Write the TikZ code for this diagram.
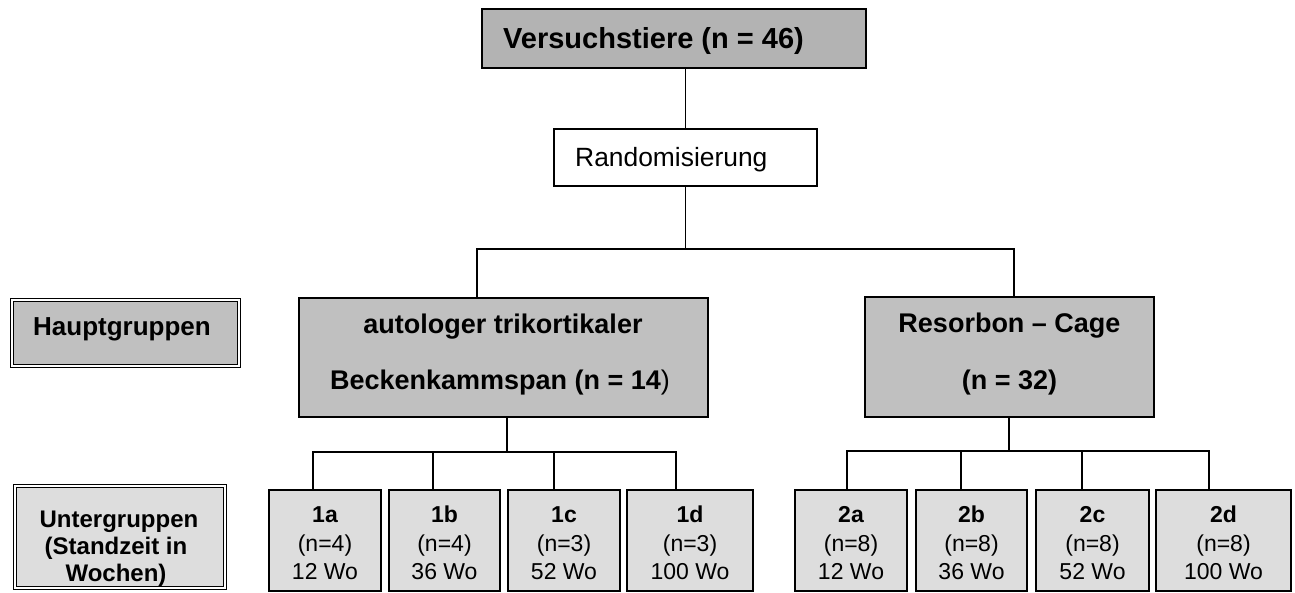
\documentclass[tikz,border=0pt]{standalone}
\usepackage{fontspec}
\setmainfont{Liberation Sans}
\definecolor{gtop}{HTML}{B3B3B3}
\definecolor{gmain}{HTML}{C0C0C0}
\definecolor{gsub}{HTML}{DDDDDD}
\begin{document}
\begin{tikzpicture}[x=1pt,y=-1pt,
  box/.style={draw,line width=1.4pt,rectangle,inner sep=0pt,outer sep=0pt},
  dbox/.style={draw,rectangle,inner sep=0pt,outer sep=0pt,line width=1.1pt,double=white,double distance=2.2pt},
  conn/.style={line width=1.4pt},
  txt/.style={inner sep=0pt,anchor=base},
  fbig/.style={font=\bfseries\fontsize{29}{34}\selectfont},
  fmain/.style={font=\bfseries\fontsize{27}{32}\selectfont},
  fsubb/.style={font=\bfseries\fontsize{23}{28}\selectfont},
  fsub/.style={font=\fontsize{23}{28}\selectfont}]
\useasboundingbox (0,0) rectangle (1295,593);
% top
\node[box,fill=gtop,minimum width=384pt,minimum height=59pt] (top) at (674,38.5) {};
\node[txt,fbig,anchor=base west] (toptext) at (503,48.3) {Versuchstiere (n = 46)};
% randomisierung
\node[box,fill=white,minimum width=263pt,minimum height=57pt] (rand) at (685.5,157.5) {};
\node[txt,anchor=base west,font=\fontsize{26.4}{31}\selectfont] (randtext) at (575,166.5) {Randomisierung};
% Hauptgruppen label
\node[dbox,fill=gmain,minimum width=227pt,minimum height=66pt] (haupt) at (125.5,333) {};
\node[txt,font=\bfseries\fontsize{26}{31}\selectfont] (haupttext) at (122,335) {Hauptgruppen};
% main groups
\node[box,fill=gmain,minimum width=409pt,minimum height=119pt] (g1) at (503.5,357.5) {};
\node[txt,fmain] (g1a) at (503,333.3) {autologer trikortikaler};
\node[txt,fmain] (g1b) at (500,389.3) {Beckenkammspan (n = 14{\mdseries)}};
\node[box,fill=gmain,minimum width=289pt,minimum height=120pt] (g2) at (1009.5,357) {};
\node[txt,fmain] (g2a) at (1009.5,332.7) {Resorbon – Cage};
\node[txt,fmain] (g2b) at (1009.5,389.3) {(n = 32)};
% Untergruppen label
\node[dbox,fill=gsub,minimum width=210pt,minimum height=102pt] (unter) at (120,537) {};
\node[txt,font=\bfseries\fontsize{24}{29}\selectfont] (u1) at (119,527.3) {Untergruppen};
\node[txt,font=\bfseries\fontsize{24}{29}\selectfont] (u2) at (116,554) {(Standzeit in};
\node[txt,font=\bfseries\fontsize{24}{29}\selectfont] (u3) at (116,581) {Wochen)};
% sub boxes
\foreach \nm/\cx/\bw/\lab/\nn/\wo in {
  s1a/325/112/1a/4/12, s1b/444.5/111/1b/4/36, s1c/564/112/1c/3/52, s1d/690/126/1d/3/100,
  s2a/851/112/2a/8/12, s2b/971.5/111/2b/8/36, s2c/1092.5/113/2c/8/52, s2d/1223.5/135/2d/8/100}{
  \node[box,fill=gsub,minimum width=\bw pt,minimum height=101pt] (\nm) at (\cx,540.5) {};
  \node[txt,fsubb] (\nm-l) at (\cx,522.3) {\lab};
  \node[txt,fsub] (\nm-n) at (\cx,551.7) {(n=\nn)};
  \node[txt,fsub] (\nm-w) at (\cx,579.3) {\wo\ Wo};
}
% connectors
\draw[conn] (top.south -| rand.north) -- (rand.north);
\coordinate (hl) at (477,249);
\coordinate (hr) at (1014,249);
\draw[conn] (rand.south) -- (rand.south |- hl);
\draw[conn] (hl |- g1.north) -- (hl) -- (hr) -- (hr |- g2.north);
% group 1 bus
\coordinate (b1a) at (313,452);
\coordinate (b1b) at (433,452);
\coordinate (b1c) at (554,452);
\coordinate (b1d) at (676,452);
\coordinate (b1m) at (507,452);
\draw[conn] (b1m |- g1.south) -- (b1m);
\draw[conn] (b1a |- s1a.north) -- (b1a) -- (b1d) -- (b1d |- s1d.north);
\draw[conn] (b1b) -- (b1b |- s1b.north);
\draw[conn] (b1c) -- (b1c |- s1c.north);
% group 2 bus
\coordinate (b2a) at (847,451);
\coordinate (b2b) at (961,451);
\coordinate (b2c) at (1082,451);
\coordinate (b2d) at (1209,451);
\coordinate (b2m) at (1009,451);
\draw[conn] (b2m |- g2.south) -- (b2m);
\draw[conn] (b2a |- s2a.north) -- (b2a) -- (b2d) -- (b2d |- s2d.north);
\draw[conn] (b2b) -- (b2b |- s2b.north);
\draw[conn] (b2c) -- (b2c |- s2c.north);
\end{tikzpicture}
\end{document}
